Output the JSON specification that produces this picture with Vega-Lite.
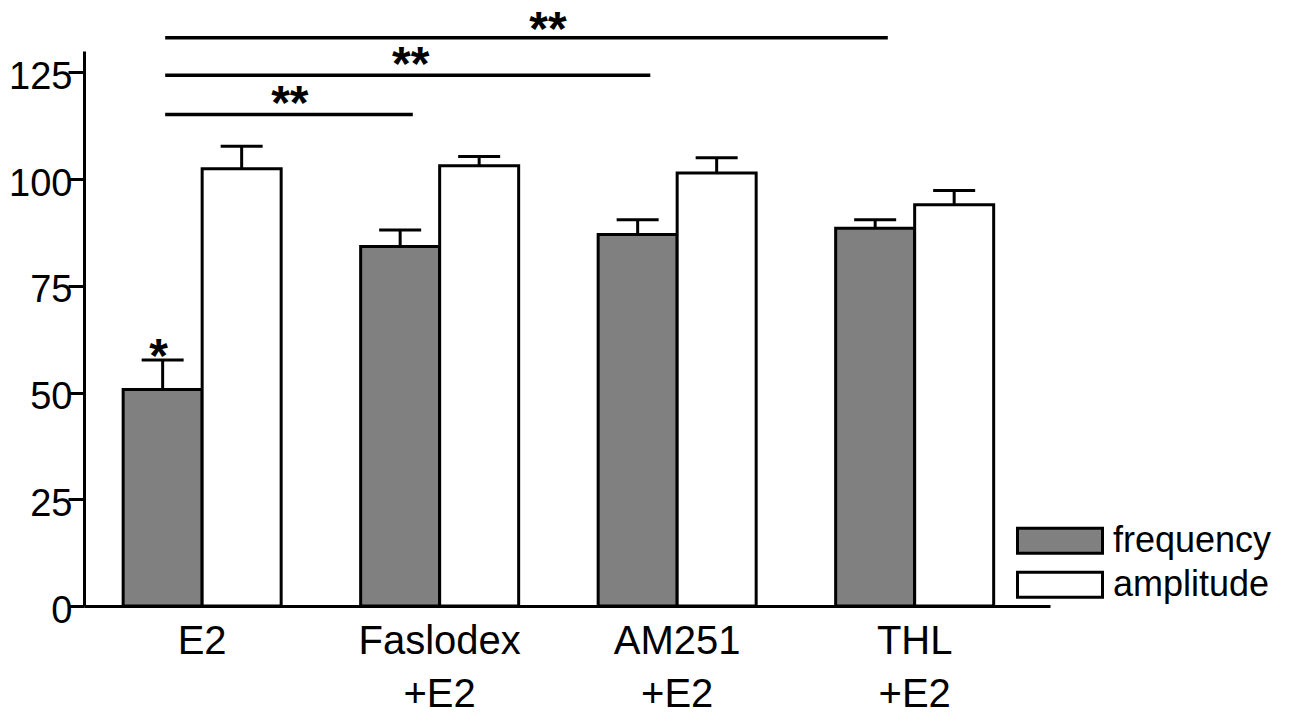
{
  "$schema": "https://vega.github.io/schema/vega-lite/v6.json",
  "description": "Frequency and amplitude (% of control) after E2 alone or with Faslodex, AM251 or THL.",
  "width": 966,
  "height": 555,
  "autosize": {"type": "none"},
  "padding": {"left": 84, "top": 51, "right": 250, "bottom": 115},
  "background": "white",
  "datasets": {
    "bars": [
      {"group": "E2", "measure": "frequency", "mean": 50.7, "upper": 57.6, "sig": "*"},
      {"group": "E2", "measure": "amplitude", "mean": 102.4, "upper": 107.7, "sig": ""},
      {"group": "Faslodex +E2", "measure": "frequency", "mean": 84.2, "upper": 88.1, "sig": ""},
      {"group": "Faslodex +E2", "measure": "amplitude", "mean": 103.1, "upper": 105.3, "sig": ""},
      {"group": "AM251 +E2", "measure": "frequency", "mean": 87.0, "upper": 90.5, "sig": ""},
      {"group": "AM251 +E2", "measure": "amplitude", "mean": 101.4, "upper": 105.0, "sig": ""},
      {"group": "THL +E2", "measure": "frequency", "mean": 88.5, "upper": 90.5, "sig": ""},
      {"group": "THL +E2", "measure": "amplitude", "mean": 94.0, "upper": 97.3, "sig": ""}
    ],
    "sig": [
      {"from": "E2", "to": "Faslodex +E2", "level": 115.1, "stars": "**", "starLevel": 114.1},
      {"from": "E2", "to": "AM251 +E2", "level": 124.3, "stars": "**", "starLevel": 123.2},
      {"from": "E2", "to": "THL +E2", "level": 133.1, "stars": "**", "starLevel": 131.3}
    ]
  },
  "layer": [
    {
      "data": {"name": "bars"},
      "mark": {"type": "bar", "stroke": "black", "strokeWidth": 3},
      "encoding": {
        "x": {
          "field": "group", "type": "nominal", "title": null,
          "scale": {
            "domain": ["E2", "Faslodex +E2", "AM251 +E2", "THL +E2"],
            "paddingInner": 0.3347, "paddingOuter": 0.201, "align": 0.41
          },
          "axis": {
            "labelAngle": 0, "ticks": false, "domainWidth": 3, "domainColor": "black",
            "labelFont": "Liberation Sans", "labelFontSize": 40, "labelColor": "black",
            "labelPadding": 15, "labelBaseline": "top", "labelLineHeight": 53,
            "labelLimit": 400, "labelExpr": "split(datum.value, ' ')"
          }
        },
        "xOffset": {
          "field": "measure", "type": "nominal",
          "scale": {"domain": ["frequency", "amplitude"], "paddingInner": 0, "paddingOuter": 0}
        },
        "y": {
          "field": "mean", "type": "quantitative", "title": null,
          "scale": {"domain": [0, 130], "nice": false},
          "axis": {
            "values": [0, 25, 50, 75, 100, 125], "grid": false,
            "tickSize": 16, "tickWidth": 3, "tickColor": "black",
            "domainWidth": 3, "domainColor": "black",
            "labelFont": "Liberation Sans", "labelFontSize": 38, "labelColor": "black",
            "labelPadding": -4, "labelOffset": 5
          }
        },
        "fill": {
          "field": "measure", "type": "nominal",
          "scale": {"domain": ["frequency", "amplitude"], "range": ["#808080", "#ffffff"]},
          "legend": {
            "title": null, "orient": "none", "legendX": 932, "legendY": 468, "padding": 0,
            "symbolType": "M-1,-0.294H1V0.294H-1Z", "symbolSize": 7225,
            "symbolStrokeColor": "black", "symbolStrokeWidth": 3, "symbolOpacity": 1,
            "labelFont": "Liberation Sans", "labelFontSize": 36, "labelColor": "black",
            "labelOffset": 9, "labelLimit": 300, "rowPadding": 0, "clipHeight": 43.5
          }
        }
      }
    },
    {
      "data": {"name": "bars"},
      "mark": {"type": "rule", "color": "black", "strokeWidth": 3},
      "encoding": {
        "x": {"field": "group", "type": "nominal", "title": null},
        "xOffset": {"field": "measure", "type": "nominal"},
        "y": {"field": "mean", "type": "quantitative", "title": null},
        "y2": {"field": "upper"}
      }
    },
    {
      "data": {"name": "bars"},
      "mark": {"type": "tick", "color": "black", "size": 42, "thickness": 3, "opacity": 1},
      "encoding": {
        "x": {"field": "group", "type": "nominal", "title": null},
        "xOffset": {"field": "measure", "type": "nominal"},
        "y": {"field": "upper", "type": "quantitative", "title": null}
      }
    },
    {
      "data": {"name": "bars"},
      "mark": {"type": "text", "font": "Liberation Sans", "fontSize": 48, "fontWeight": "bold", "baseline": "alphabetic", "dy": 12, "dx": -4, "color": "black"},
      "encoding": {
        "x": {"field": "group", "type": "nominal", "title": null},
        "xOffset": {"field": "measure", "type": "nominal"},
        "y": {"field": "upper", "type": "quantitative", "title": null},
        "text": {"field": "sig"}
      }
    },
    {
      "data": {"name": "sig"},
      "mark": {"type": "rule", "color": "black", "strokeWidth": 3.5},
      "encoding": {
        "x": {"field": "from", "type": "nominal", "bandPosition": 0.266, "title": null},
        "x2": {"field": "to", "bandPosition": 0.33},
        "y": {"field": "level", "type": "quantitative", "title": null}
      }
    },
    {
      "data": {"name": "sig"},
      "transform": [{"filter": "datum.to == 'Faslodex +E2'"}],
      "mark": {"type": "text", "font": "Liberation Sans", "fontSize": 48, "fontWeight": "bold", "baseline": "alphabetic", "color": "black"},
      "encoding": {
        "x": {"field": "from", "type": "nominal", "bandPosition": 1.055, "title": null},
        "y": {"field": "starLevel", "type": "quantitative", "title": null},
        "text": {"field": "stars"}
      }
    },
    {
      "data": {"name": "sig"},
      "transform": [{"filter": "datum.to == 'AM251 +E2'"}],
      "mark": {"type": "text", "font": "Liberation Sans", "fontSize": 48, "fontWeight": "bold", "baseline": "alphabetic", "color": "black"},
      "encoding": {
        "x": {"field": "from", "type": "nominal", "bandPosition": 1.82, "title": null},
        "y": {"field": "starLevel", "type": "quantitative", "title": null},
        "text": {"field": "stars"}
      }
    },
    {
      "data": {"name": "sig"},
      "transform": [{"filter": "datum.to == 'THL +E2'"}],
      "mark": {"type": "text", "font": "Liberation Sans", "fontSize": 48, "fontWeight": "bold", "baseline": "alphabetic", "color": "black"},
      "encoding": {
        "x": {"field": "from", "type": "nominal", "bandPosition": 2.688, "title": null},
        "y": {"field": "starLevel", "type": "quantitative", "title": null},
        "text": {"field": "stars"}
      }
    }
  ],
  "config": {
    "view": {"stroke": null},
    "font": "Liberation Sans"
  }
}
